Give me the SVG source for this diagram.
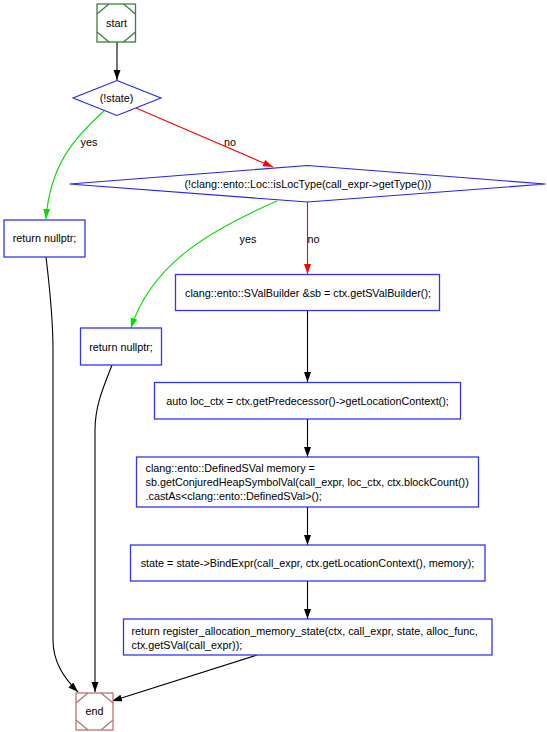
<svg xmlns="http://www.w3.org/2000/svg" width="547" height="732" viewBox="0 0 547 732">
  <defs>
    <style>
      text { font-family: "Liberation Sans", Arial, sans-serif; font-size: 10.8px; fill: #000; }
      .c { text-anchor: middle; }
      .box { fill: #fff; stroke: #3333ff; stroke-width: 1.3; }
      .dia { fill: #fff; stroke: #2222ff; stroke-width: 1.1; }
      .start { fill: #fff; stroke: #3f7f3f; stroke-width: 1.3; }
      .end { fill: #fff; stroke: #c07070; stroke-width: 1.3; }
      .e { fill: none; stroke-width: 1.1; }
      .k { stroke: #000; marker-end: url(#ak); }
      .r { stroke: #ff0000; marker-end: url(#ar); }
      .g { stroke: #00e000; marker-end: url(#ag); }
    </style>
    <marker id="ak" markerUnits="userSpaceOnUse" markerWidth="11" markerHeight="8" refX="10" refY="3.5" orient="auto">
      <path d="M0,0 L10,3.5 L0,7 z" fill="#000"/>
    </marker>
    <marker id="ar" markerUnits="userSpaceOnUse" markerWidth="11" markerHeight="8" refX="10" refY="3.5" orient="auto">
      <path d="M0,0 L10,3.5 L0,7 z" fill="#ff0000"/>
    </marker>
    <marker id="ag" markerUnits="userSpaceOnUse" markerWidth="11" markerHeight="8" refX="10" refY="3.5" orient="auto">
      <path d="M0,0 L10,3.5 L0,7 z" fill="#00e000"/>
    </marker>
  </defs>

  <!-- connectors -->
  <g id="edges">
    <path class="e k" d="M117,42 L117,80"/>
    <path class="e g" d="M104,111 C74,138 50,165 46,219"/>
    <text class="c" x="89" y="145.5">yes</text>
    <path class="e r" d="M136,108 L273,167"/>
    <text class="c" x="230" y="145.5">no</text>
    <path class="e g" d="M277,201 C215,228 152,262 131,328"/>
    <text class="c" x="248" y="243">yes</text>
    <path class="e r" d="M307.5,202 L307.5,274"/>
    <text class="c" x="313.5" y="243">no</text>
    <path class="e k" d="M307.5,311 L307.5,382"/>
    <path class="e k" d="M307.5,419 L307.5,457"/>
    <path class="e k" d="M307.5,507 L307.5,545"/>
    <path class="e k" d="M307.5,581 L307.5,619"/>
    <path class="e k" d="M257,655 L112,701"/>
    <path class="e k" d="M46,257 C50,290 53,320 53,350 L53,640 C53,662 64,678 78,692"/>
    <path class="e k" d="M112,365 C104,386 95,405 95,430 L95,692"/>
  </g>

  <g id="start">
    <rect class="start" x="97" y="4" width="38.5" height="38"/>
    <path class="start" d="M97,14 L109,4 M123.5,4 L135.5,14 M97,32 L109,42 M123.5,42 L135.5,32"/>
    <text class="c" x="116.5" y="26.5">start</text>
  </g>

  <g id="cond_state">
    <polygon class="dia" points="117,80.5 161,98 117,115.5 73,98"/>
    <text class="c" x="116.5" y="102">(!state)</text>
  </g>

  <g id="cond_loctype">
    <polygon class="dia" points="307.5,165.5 545.5,184 307.5,202 69.5,184"/>
    <text class="c" x="308" y="188">(!clang::ento::Loc::isLocType(call_expr-&gt;getType()))</text>
  </g>

  <g id="ret_null_1">
    <rect class="box" x="4" y="220" width="81" height="37"/>
    <text class="c" x="44.5" y="242">return nullptr;</text>
  </g>

  <g id="ret_null_2">
    <rect class="box" x="80.5" y="328" width="81" height="37"/>
    <text class="c" x="121" y="350.5">return nullptr;</text>
  </g>

  <g id="svalbuilder">
    <rect class="box" x="175.5" y="274.5" width="264" height="36"/>
    <text class="c" x="308" y="296.5">clang::ento::SValBuilder &amp;sb = ctx.getSValBuilder();</text>
  </g>

  <g id="loc_ctx">
    <rect class="box" x="154.5" y="382.5" width="306" height="36.5"/>
    <text class="c" x="307.5" y="405">auto loc_ctx = ctx.getPredecessor()-&gt;getLocationContext();</text>
  </g>

  <g id="memory">
    <rect class="box" x="136.5" y="457" width="342" height="50"/>
    <text x="145.5" y="471.5">clang::ento::DefinedSVal memory =</text>
    <text x="145.5" y="485.5">sb.getConjuredHeapSymbolVal(call_expr, loc_ctx, ctx.blockCount())</text>
    <text x="145.5" y="499.5">.castAs&lt;clang::ento::DefinedSVal&gt;();</text>
  </g>

  <g id="bind_expr">
    <rect class="box" x="130.5" y="545" width="354.5" height="36"/>
    <text class="c" x="307.5" y="567">state = state-&gt;BindExpr(call_expr, ctx.getLocationContext(), memory);</text>
  </g>

  <g id="ret_register">
    <rect class="box" x="123.5" y="619" width="368.5" height="36"/>
    <text x="131.5" y="634.5">return register_allocation_memory_state(ctx, call_expr, state, alloc_func,</text>
    <text x="131.5" y="648.5">ctx.getSVal(call_expr));</text>
  </g>

  <g id="end">
    <rect class="end" x="76" y="693" width="37" height="37"/>
    <path class="end" d="M76,703 L88,693 M101,693 L113,703 M76,720 L88,730 M101,730 L113,720"/>
    <text class="c" x="94.5" y="715">end</text>
  </g>
</svg>
